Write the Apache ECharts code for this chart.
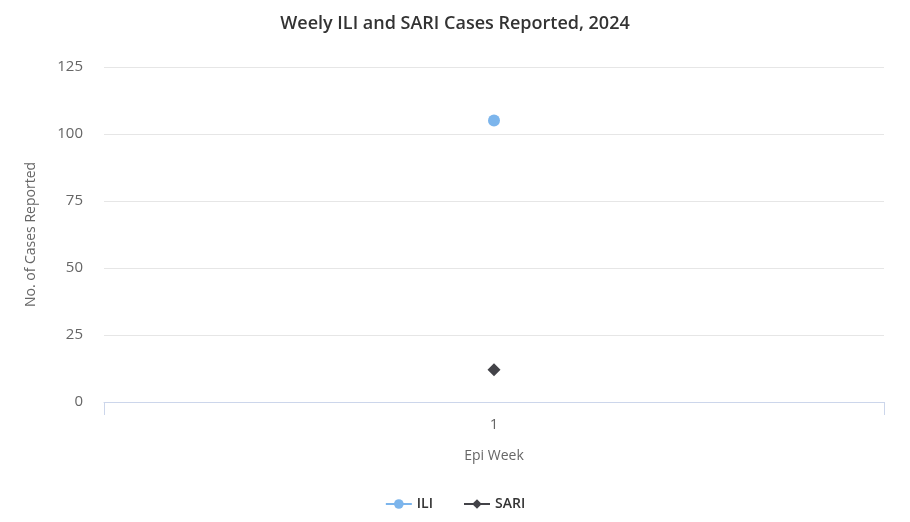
<!DOCTYPE html>
<html>
<head>
<meta charset="utf-8">
<title>Weely ILI and SARI Cases Reported, 2024</title>
<script src="https://cdn.jsdelivr.net/npm/echarts@6/dist/echarts.min.js"></script>
<style>
html, body { margin: 0; padding: 0; background: #fff; }
#main { width: 910px; height: 522px; }
</style>
</head>
<body>
<div id="main"></div>
<script>
// chart data
var weeks = ['1'];
var iliCases = [105];
var sariCases = [12];

var font = '"Open Sans", "Noto Sans", sans-serif';

var myChart = echarts.init(document.getElementById('main'));
var option = {
    backgroundColor: '#ffffff',
    title: {
        text: 'Weely ILI and SARI Cases Reported, 2024',
        left: 'center',
        top: 10,
        textStyle: { fontFamily: font, fontSize: 18, fontWeight: 600, color: '#333333' }
    },
    legend: {
        bottom: 6,
        left: 'center',
        itemWidth: 26,
        itemHeight: 12,
        itemGap: 30,
        textStyle: { fontFamily: font, fontSize: 14, fontWeight: 600, color: '#333333' },
        data: ['ILI', 'SARI']
    },
    grid: {
        left: 104,
        right: 26,
        top: 67,
        bottom: 120
    },
    xAxis: {
        type: 'category',
        data: weeks,
        boundaryGap: true,
        name: 'Epi Week',
        nameLocation: 'middle',
        nameGap: 47,
        nameTextStyle: { fontFamily: font, fontSize: 14, color: '#666666' },
        axisLine: { lineStyle: { color: '#ccd6eb', width: 1 } },
        axisTick: { show: true, interval: 0, alignWithLabel: false, length: 13, lineStyle: { color: '#ccd6eb' } },
        axisLabel: { fontFamily: font, fontSize: 15, color: '#666666', margin: 15 },
        splitLine: { show: false }
    },
    yAxis: {
        type: 'value',
        min: 0,
        max: 125,
        interval: 25,
        name: 'No. of Cases Reported',
        nameLocation: 'middle',
        nameGap: 66,
        nameTextStyle: { fontFamily: font, fontSize: 14, color: '#666666' },
        axisLine: { show: false },
        axisTick: { show: false },
        axisLabel: { fontFamily: font, fontSize: 15, color: '#666666', margin: 21 },
        splitLine: { lineStyle: { color: '#e6e6e6', width: 1 } }
    },
    series: [
        {
            name: 'ILI',
            type: 'line',
            data: iliCases,
            symbol: 'circle',
            symbolSize: 12,
            color: '#7cb5ec',
            lineStyle: { width: 2, color: '#7cb5ec' }
        },
        {
            name: 'SARI',
            type: 'line',
            data: sariCases,
            symbol: 'diamond',
            symbolSize: 13,
            color: '#434348',
            lineStyle: { width: 2, color: '#434348' }
        }
    ]
};
myChart.setOption(option);
</script>
</body>
</html>
